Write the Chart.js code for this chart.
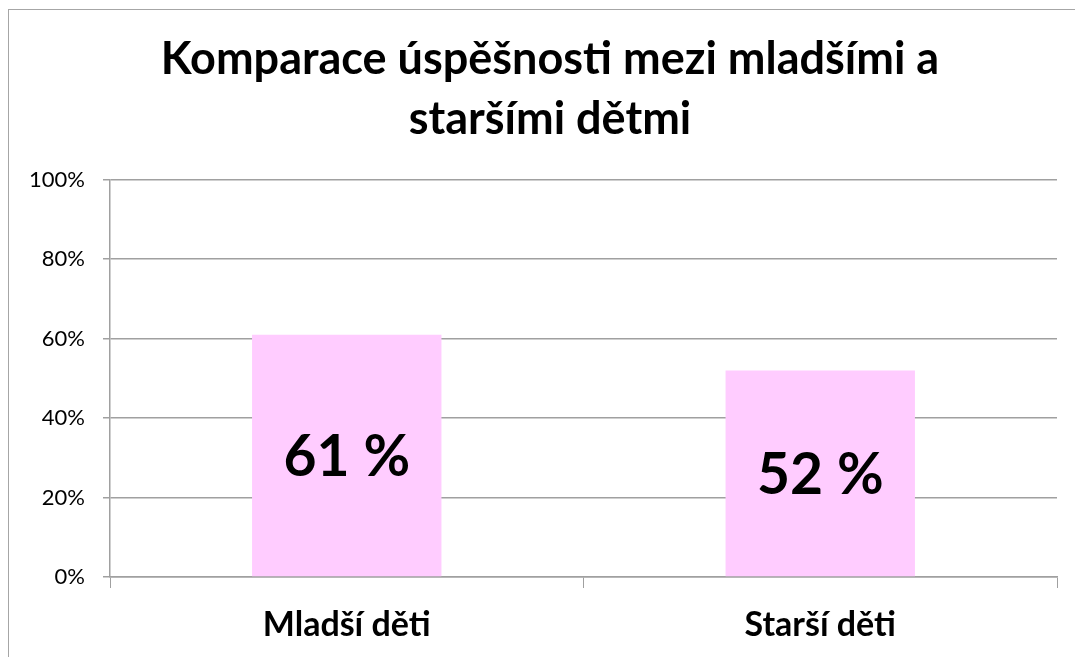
<!DOCTYPE html>
<html>
<head>
<meta charset="utf-8">
<script src="https://cdn.jsdelivr.net/npm/chart.js@4/dist/chart.umd.min.js"></script>
<style>
	html, body { margin: 0; padding: 0; background: #fff; overflow: hidden; }
	#wrap { position: relative; width: 1075px; height: 657px; }
	#frame { position: absolute; left: 8px; top: 9px; width: 1100px; height: 700px; border: 1.5px solid #a6a6a6; pointer-events: none; }
</style>
</head>
<body>
<div id="wrap">
	<canvas id="myChart" width="1075" height="657"></canvas>
	<div id="frame"></div>
</div>
<script>
const categories = ['Mladší děti', 'Starší děti']
const values = [61, 52]
const valueLabels = ['61 %', '52 %']
const yTicks = [0, 20, 40, 60, 80, 100]

const gridColor = '#a0a0a0'

// draws the big value text in the middle of each bar
const barText = {
	id: 'barText',
	afterLayout(chart) {
		// let the y tick labels use the left padding too (they get clipped to the scale box)
		chart.scales.y.left = 0
	},
	afterDatasetsDraw(chart) {
		const c = chart.ctx
		const meta = chart.getDatasetMeta(0)
		c.save()
		c.font = 'bold 57px Lato'
		c.fillStyle = '#000'
		c.textAlign = 'center'
		c.textBaseline = 'middle'
		meta.data.forEach(function (bar, i) {
			c.fillText(valueLabels[i], bar.x, (bar.y + bar.base) / 2 + 2)
		})
		c.restore()
	},
}

const ctx = document.getElementById('myChart')
const myChart = new Chart(ctx, {
	type: 'bar',
	data: {
		labels: categories,
		datasets: [
			{
				data: values,
				backgroundColor: '#ffccff',
				barPercentage: 0.4,
				categoryPercentage: 1,
			},
		],
	},
	plugins: [barText],
	options: {
		responsive: false,
		animation: false,
		layout: { padding: { left: 43, right: 18, top: 0, bottom: 0 } },
		plugins: {
			legend: { display: false },
			tooltip: { enabled: false },
			title: {
				display: true,
				text: ['Komparace úspěšnosti mezi mladšími a', 'staršími dětmi'],
				color: '#000',
				font: { family: 'Lato', size: 45, weight: 'bold', lineHeight: 1.32 },
				padding: { top: 30, bottom: 31 },
			},
		},
		scales: {
			x: {
				grid: {
					offset: true,
					drawOnChartArea: false,
					color: gridColor,
					tickLength: 11,
				},
				border: { color: gridColor, width: 1.5 },
				ticks: {
					color: '#000',
					font: { family: 'Lato', size: 34, weight: 'bold' },
					padding: 17,
				},
				afterFit: function (scale) { scale.height = 80 },
			},
			y: {
				min: 0,
				max: 100,
				afterBuildTicks: function (scale) {
					scale.ticks = yTicks.map(function (v) { return { value: v } })
				},
				grid: { color: gridColor, lineWidth: 1.5, tickLength: 7 },
				border: { color: gridColor, width: 1.5 },
				ticks: {
					color: '#000',
					font: { family: 'Lato', size: 22 },
					padding: 18,
					callback: function (v) { return v + '%' },
				},
				afterFit: function (scale) { scale.width = 67 },
			},
		},
	},
})
</script>
</body>
</html>
